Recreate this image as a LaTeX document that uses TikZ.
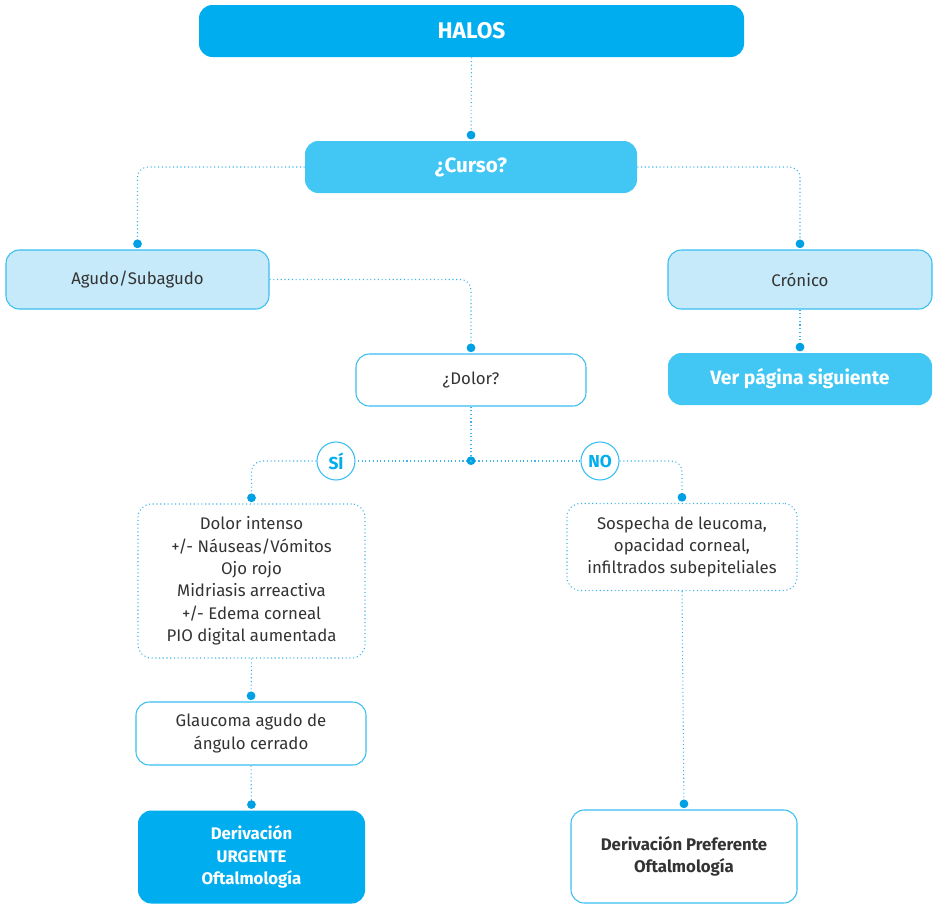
\documentclass[tikz,border=0pt]{standalone}
\usepackage{fontspec}
\setmainfont{Fira Sans}
\usetikzlibrary{arrows.meta}

\definecolor{deepblue}{RGB}{0,174,239}
\definecolor{midblue}{RGB}{66,199,244}
\definecolor{paleblue}{RGB}{198,234,249}
\definecolor{edgeblue}{RGB}{56,190,240}
\definecolor{linkblue}{RGB}{60,180,235}
\definecolor{dotblue}{RGB}{0,160,228}
\definecolor{inkgrey}{RGB}{51,51,51}

\tikzset{
  box/.style={rectangle, rounded corners=10pt, inner sep=2pt, align=center,
              font=\fontsize{12.6}{16.8}\selectfont, text=inkgrey},
  headbox/.style={box, fill=deepblue, text=white, font=\fontsize{17}{20}\selectfont\bfseries},
  askbox/.style={box, fill=midblue, text=white, font=\fontsize{15.5}{18}\selectfont\bfseries},
  softbox/.style={box, fill=paleblue, draw=edgeblue, line width=0.8pt},
  plainbox/.style={box, fill=white, draw=edgeblue, line width=0.8pt},
  dotbox/.style={box, draw=linkblue, dotted, line width=0.8pt},
  tag/.style={circle, draw=edgeblue, fill=white, line width=0.8pt, minimum size=28.5pt,
              inner sep=0pt, text=deepblue, font=\fontsize{13}{15}\selectfont\bfseries},
  link/.style={draw=linkblue, dotted, line width=0.8pt, rounded corners=8pt},
  into/.style={link, -{Circle[length=6.5pt, color=dotblue, fill=dotblue]}, shorten >=1pt},
}

\begin{document}
\begin{tikzpicture}[x=0.75pt, y=-0.75pt]
\useasboundingbox (0,0) rectangle (935,904);

% top of the chart
\node[headbox, minimum width=408.75pt, minimum height=39pt] (halos) at (471.5,31) {HALOS};
\node[askbox, minimum width=249pt, minimum height=39pt] (curso) at (471,167) {¿Curso?};

% course branches
\node[softbox, minimum width=197.25pt, minimum height=44.25pt] (agudo) at (137.5,279.5) {Agudo/Subagudo};
\node[softbox, minimum width=198pt, minimum height=44.25pt] (cronico) at (800,279.5) {Crónico};
\node[askbox, font=\fontsize{14.5}{17}\selectfont\bfseries, minimum width=198pt, minimum height=39pt] (ver) at (800,379) {Ver página siguiente};

% pain question
\node[plainbox, minimum width=172.5pt, minimum height=39pt] (dolor) at (471,380) {¿Dolor?};
\coordinate (split) at (471,461);
\node[tag] (si) at (336,461) {SÍ};
\node[tag] (no) at (600,461) {NO};

% findings
\node[dotbox, minimum width=170.25pt, minimum height=115.5pt] (sintomas) at (251.5,581)
  {Dolor intenso\\+/- Náuseas/Vómitos\\Ojo rojo\\Midriasis arreactiva\\+/- Edema corneal\\PIO digital aumentada};
\node[dotbox, minimum width=172.5pt, minimum height=65.25pt] (sospecha) at (682,547)
  {Sospecha de leucoma,\\opacidad corneal,\\infiltrados subepiteliales};
\node[plainbox, minimum width=172.5pt, minimum height=47.25pt] (glaucoma) at (251,733.5)
  {Glaucoma agudo de\\ángulo cerrado};

% referrals
\node[box, fill=deepblue, text=white, font=\fontsize{12.6}{16.8}\selectfont\bfseries,
      minimum width=170.25pt, minimum height=69.75pt] (urgente) at (251.5,857)
  {Derivación\\URGENTE\\Oftalmología};
\node[plainbox, font=\fontsize{12.6}{16.8}\selectfont\bfseries,
      minimum width=169.5pt, minimum height=69.75pt] (preferente) at (684,856.5)
  {Derivación Preferente\\Oftalmología};

% connectors
\draw[into] (halos.south) -- (curso.north);
\draw[into] (curso.west) -| (agudo.north);
\draw[into] (curso.east) -| (cronico.north);
\draw[into] (cronico.south) -- (ver.north);
\draw[into] (agudo.east) -| (dolor.north);
\draw[into, shorten >=-3pt] (dolor.south) -- (split);
\draw[link] (split) -- (si.east);
\draw[link] (split) -- (no.west);
\draw[into] (si.west) -| (sintomas.north);
\draw[into] (no.east) -| (sospecha.north);
\draw[into] (sintomas.south) -- (glaucoma.north);
\draw[into] (glaucoma.south) -- (urgente.north);
\draw[into] (sospecha.south) -- (preferente.north);
\end{tikzpicture}
\end{document}
